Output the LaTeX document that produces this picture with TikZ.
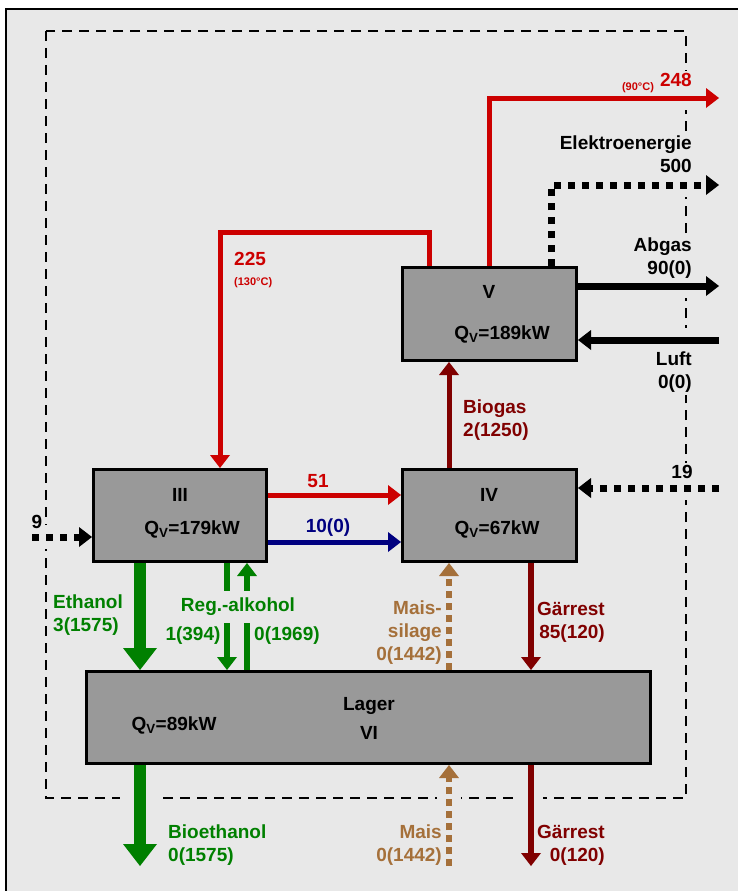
\documentclass[tikz,border=0pt]{standalone}
\usepackage{fontspec}
\setmainfont{Liberation Sans}
\usetikzlibrary{arrows.meta}
\definecolor{PanelGray}{HTML}{E8E8E8}
\definecolor{BoxGray}{HTML}{999999}
\definecolor{HeatRed}{HTML}{CC0000}
\definecolor{GasRed}{HTML}{800000}
\definecolor{AlcGreen}{HTML}{008000}
\definecolor{WaterNavy}{HTML}{000080}
\definecolor{MaizeBrown}{HTML}{A5703A}

\tikzset{
  flowtip/.tip={Triangle[length=13pt,width=20pt,line width=0pt]},
  bigtip/.tip={Triangle[length=22pt,width=34pt,line width=0pt]},
  unit/.style={draw=black, line width=3pt, fill=BoxGray, inner sep=0pt},
  unitlbl/.style={inner sep=0pt, font=\fontsize{19}{23}\selectfont\bfseries},
  lbl/.style={inner sep=2pt, fill=PanelGray, font=\fontsize{19}{23}\selectfont\bfseries},
  smalllbl/.style={inner sep=1pt, fill=PanelGray, font=\fontsize{11}{13}\selectfont\bfseries, text=HeatRed},
  gap/.style={preaction={draw=PanelGray, solid, arrows=-, line width=#1}},
  gap/.default=24pt,
  heat/.style={draw=HeatRed, line width=5pt, -flowtip, gap},
  cool/.style={draw=WaterNavy, line width=5pt, -flowtip},
  gas/.style={draw=GasRed, line width=5pt, -flowtip},
  digest/.style={draw=GasRed, line width=6pt, -flowtip, gap},
  exhaust/.style={draw=black, line width=7pt, -flowtip, gap},
  power/.style={draw=black, line width=7pt, dash pattern=on 7pt off 7pt, -flowtip, gap},
  ethanol/.style={draw=AlcGreen, line width=12pt, -bigtip, gap=40pt},
  alcohol/.style={draw=AlcGreen, line width=6.5pt, -flowtip},
  maize/.style={draw=MaizeBrown, line width=6pt, dash pattern=on 7pt off 5pt, -flowtip, gap},
  balance/.style={draw=black, line width=2.2pt, dash pattern=on 10pt off 7pt}
}

\begin{document}
\begin{tikzpicture}[x=1pt, y=-1pt]
  \useasboundingbox (0,0) rectangle (738,891);
  \fill[PanelGray] (6,9) rectangle (738,891);
  \draw[line width=2.5pt] (6,891) -- (6,9) -- (738,9);
  \draw[balance] (46,31) rectangle (686,798);

  % units
  \node[unit, minimum width=174pt, minimum height=93pt] (V) at (489.5,314) {};
  \node[unit, minimum width=173pt, minimum height=92pt] (III) at (180,515.5) {};
  \node[unit, minimum width=174pt, minimum height=92pt] (IV) at (489.5,515.5) {};
  \node[unit, minimum width=564pt, minimum height=92pt] (VI) at (368.5,717.5) {};

  \node[unitlbl] (Vname) at (489,292) {V};
  \node[unitlbl] (Vq) at (502,334) {Q\textsubscript{V}=189kW};
  \node[unitlbl] (IIIname) at (180,495) {III};
  \node[unitlbl] (IIIq) at (192,529) {Q\textsubscript{V}=179kW};
  \node[unitlbl] (IVname) at (489,495) {IV};
  \node[unitlbl] (IVq) at (497,529) {Q\textsubscript{V}=67kW};
  \node[unitlbl, align=center, anchor=north] (VIname) at (369,697) {Lager\\[6pt]VI};
  \node[unitlbl] (VIq) at (174,725) {Q\textsubscript{V}=89kW};

  % end points
  \coordinate (out248) at (719,98);
  \coordinate (loop225) at (220,232);
  \coordinate (outPower) at (719,185);
  \coordinate (outAbgas) at (719,286);
  \coordinate (inLuft) at (719,340);
  \coordinate (in19) at (719,488);
  \coordinate (in9) at (32,537);
  \coordinate (outBio) at (140,866);
  \coordinate (inMais) at (449,866);
  \coordinate (outRest) at (531,866);

  % flows
  \draw[heat] (V.north) |- (out248);
  \draw[heat] (V.north -| 429,0) |- (loop225) -- (III.north -| loop225);
  \draw[heat] (III.east |- 0,495) -- (IV.west |- 0,495);
  \draw[cool] (III.east |- 0,542) -- (IV.west |- 0,542);
  \draw[gas] (IV.north -| 449,0) -- (V.south -| 449,0);
  \draw[exhaust] (V.east |- outAbgas) -- (outAbgas);
  \draw[exhaust] (inLuft) -- (V.east |- inLuft);
  \draw[power] (V.north -| 551,0) |- (outPower);
  \draw[power] (in19) -- (IV.east |- in19);
  \draw[power] (in9) -- (III.west |- in9);
  \draw[ethanol] (III.south -| 140,0) -- (VI.north -| 140,0);
  \draw[alcohol] (III.south -| 227,0) -- (VI.north -| 227,0);
  \draw[alcohol] (VI.north -| 247,0) -- (III.south -| 247,0);
  \draw[maize] (VI.north -| 449,0) -- (IV.south -| 449,0);
  \draw[digest] (IV.south -| 531,0) -- (VI.north -| 531,0);
  \draw[ethanol] (VI.south -| 140,0) -- (outBio);
  \draw[maize] (inMais) -- (VI.south -| inMais);
  \draw[digest] (VI.south -| 531,0) -- (outRest);

  % labels
  \node[lbl, text=HeatRed, anchor=east] (l248) at (694,80) {248};
  \node[smalllbl] (l90) at (638,88) {(90°C)};
  \node[lbl, text=HeatRed, anchor=west] (l225) at (232,259) {225};
  \node[smalllbl, anchor=west] (l130) at (233,283) {(130°C)};
  \node[lbl, align=right, anchor=north east] (lPower) at (694,134) {Elektroenergie\\500};
  \node[lbl, align=right, anchor=north east] (lAbgas) at (694,236) {Abgas\\90(0)};
  \node[lbl, align=right, anchor=north east] (lLuft) at (694,350) {Luft\\0(0)};
  \node[lbl, text=GasRed, align=left, anchor=north west] (lBiogas) at (461,398) {Biogas\\2(1250)};
  \node[lbl, text=HeatRed] (l51) at (318,481) {51};
  \node[lbl, text=WaterNavy] (l10) at (328,528) {10(0)};
  \node[lbl] (l19) at (682,472) {19};
  \node[lbl] (l9) at (37,522) {9};
  \node[lbl, text=AlcGreen, align=left, anchor=north west] (lEthanol) at (51,593) {Ethanol\\3(1575)};
  \node[lbl, text=AlcGreen, inner xsep=2pt, inner ysep=7pt] (lReg) at (238,607) {Reg.-alkohol};
  \node[lbl, text=AlcGreen] (l394) at (193,636) {1(394)};
  \node[lbl, text=AlcGreen, anchor=west] (l1969) at (252,636) {0(1969)};
  \node[lbl, text=MaizeBrown, align=right, anchor=north east] (lSilage) at (444,599) {Mais-\\silage\\0(1442)};
  \node[lbl, fill=none, text=GasRed, align=right, anchor=north west] (lRest) at (535,600) {Gärrest\\85(120)};
  \node[lbl, text=AlcGreen, align=left, anchor=north west] (lBio) at (166,823) {Bioethanol\\0(1575)};
  \node[lbl, text=MaizeBrown, align=right, anchor=north east] (lMais) at (444,823) {Mais\\0(1442)};
  \node[lbl, fill=none, text=GasRed, align=right, anchor=north west] (lRestOut) at (535,823) {Gärrest\\0(120)};
\end{tikzpicture}
\end{document}
